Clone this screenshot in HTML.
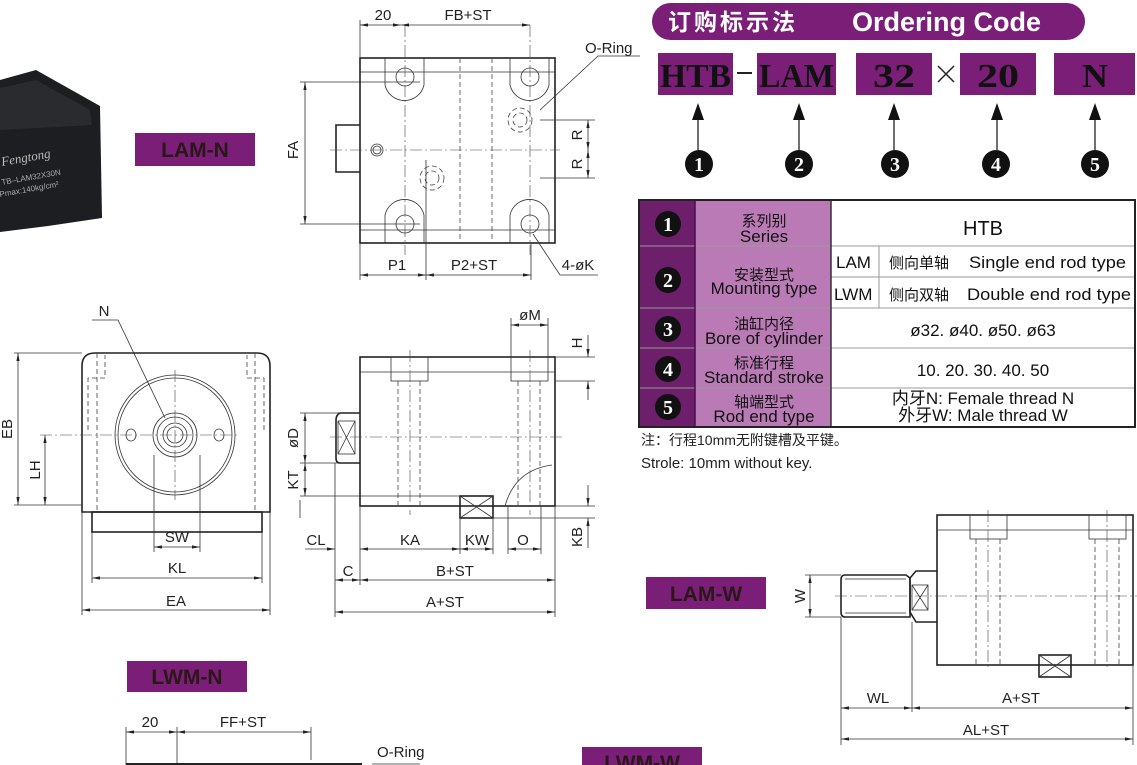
<!DOCTYPE html>
<html><head><meta charset="utf-8"><style>
html,body{margin:0;padding:0;background:#fff;}
svg{display:block;font-family:"Liberation Sans","Noto Sans CJK SC",sans-serif;}
.l{stroke:#222;stroke-width:1.6;fill:none}
.t{stroke:#333;stroke-width:0.8;fill:none}
.d{stroke:#444;stroke-width:0.8;fill:none;stroke-dasharray:5,3}
.c{stroke:#444;stroke-width:0.6;fill:none;stroke-dasharray:12,3,2,3}
.dim{font-size:15px;fill:#222}
.lab{font-size:21px;font-weight:bold;fill:#2a1818}
.tb{font-size:17px;fill:#111}
</style></head><body>
<svg width="1137" height="765" viewBox="0 0 1137 765" xmlns="http://www.w3.org/2000/svg">
<defs>
<marker id="a" viewBox="0 0 10 6" refX="10" refY="3" markerWidth="10" markerHeight="6" orient="auto-start-reverse"><path d="M0,1 L10,3 L0,5z" fill="#222"/></marker>
</defs>

<!-- photo -->
<polygon points="0,80 36,70 100,106 102,218 48,226 0,232" fill="#1d1e21"/>
<polygon points="0,88 36,80 90,110 92,125 0,130" fill="#2a2b2f"/>
<text x="2" y="166" font-size="13" font-style="italic" fill="#bbb" font-family="Liberation Serif,serif" transform="rotate(-10 2 166)">Fengtong</text>
<text x="2" y="185" font-size="8" fill="#aaa" transform="rotate(-10 2 185)">TB–LAM32X30N</text>
<text x="0" y="197" font-size="8" fill="#aaa" transform="rotate(-10 0 197)">Pmax:140kg/cm²</text>

<rect x="135" y="133" width="120" height="33" fill="#7a1e77"/>
<text x="195" y="157" text-anchor="middle" class="lab">LAM-N</text>

<!-- top view -->
<rect x="360" y="58" width="195" height="185" class="l"/>
<line x1="360" y1="72" x2="555" y2="72" class="t"/><line x1="360" y1="230" x2="555" y2="230" class="t"/>
<path d="M385,58 V85 A20,20 0 0 0 424,85 V58" class="t"/>
<path d="M510,58 V85 A20,20 0 0 0 549,85 V58" class="t"/>
<path d="M385,243 V215 A20,20 0 0 1 424,215 V243" class="t"/>
<path d="M510,243 V215 A20,20 0 0 1 549,215 V243" class="t"/>
<circle cx="405" cy="77" r="9" class="t"/><circle cx="530" cy="77" r="9" class="t"/>
<circle cx="405" cy="224" r="9" class="t"/><circle cx="530" cy="224" r="9" class="t"/>
<line x1="460" y1="58" x2="460" y2="243" class="d"/><line x1="492" y1="58" x2="492" y2="243" class="d"/>
<path d="M360,125 H336 V172 H360" class="l"/>
<circle cx="377" cy="150" r="6" class="t"/><circle cx="377" cy="150" r="4" class="t"/>
<circle cx="520" cy="120" r="12" class="d"/><circle cx="520" cy="120" r="7" class="d"/><circle cx="432" cy="178" r="12" class="d"/><circle cx="432" cy="178" r="7" class="d"/>
<line x1="330" y1="150" x2="560" y2="150" class="c"/>
<line x1="405" y1="25" x2="405" y2="255" class="c"/><line x1="530" y1="25" x2="530" y2="255" class="c"/>
<line x1="300" y1="82" x2="420" y2="82" class="t"/><line x1="300" y1="224" x2="420" y2="224" class="t"/>
<line x1="305" y1="82" x2="305" y2="224" class="t" marker-start="url(#a)" marker-end="url(#a)"/>
<text x="298" y="150" class="dim" text-anchor="middle" transform="rotate(-90 298 150)">FA</text>
<line x1="360" y1="20" x2="360" y2="58" class="t"/>
<line x1="360" y1="25" x2="401" y2="25" class="t" marker-start="url(#a)" marker-end="url(#a)"/>
<line x1="401" y1="25" x2="530" y2="25" class="t" marker-start="url(#a)" marker-end="url(#a)"/>
<text x="383" y="20" class="dim" text-anchor="middle">20</text>
<text x="468" y="20" class="dim" text-anchor="middle">FB+ST</text>
<line x1="540" y1="120" x2="595" y2="120" class="t"/><line x1="540" y1="178" x2="595" y2="178" class="t"/>
<line x1="588" y1="120" x2="588" y2="150" class="t" marker-start="url(#a)" marker-end="url(#a)"/>
<line x1="588" y1="150" x2="588" y2="178" class="t" marker-start="url(#a)" marker-end="url(#a)"/>
<text x="582" y="135" class="dim" text-anchor="middle" transform="rotate(-90 582 135)">R</text>
<text x="582" y="164" class="dim" text-anchor="middle" transform="rotate(-90 582 164)">R</text>
<text x="585" y="53" class="dim">O-Ring</text>
<polyline points="640,56 598,56 540,110" class="t"/>
<line x1="360" y1="243" x2="360" y2="280" class="t"/><line x1="426" y1="160" x2="426" y2="280" class="t"/><line x1="531" y1="243" x2="531" y2="280" class="t"/>
<line x1="360" y1="275" x2="426" y2="275" class="t" marker-start="url(#a)" marker-end="url(#a)"/>
<line x1="426" y1="275" x2="531" y2="275" class="t" marker-start="url(#a)" marker-end="url(#a)"/>
<text x="397" y="270" class="dim" text-anchor="middle">P1</text>
<text x="474" y="270" class="dim" text-anchor="middle">P2+ST</text>
<polyline points="533,234 560,275 598,275" class="t"/>
<text x="578" y="270" class="dim" text-anchor="middle">4-øK</text>

<!-- front view -->
<path d="M82,512 V366 Q82,353 95,353 H257 Q270,353 270,366 V512 Z" class="l"/>
<rect x="92" y="512" width="170" height="20" class="l"/>
<line x1="97" y1="353" x2="97" y2="512" class="d"/><line x1="255" y1="353" x2="255" y2="512" class="d"/>
<polyline points="88,430 88,378 105,378 105,355" class="d"/><polyline points="264,430 264,378 247,378 247,355" class="d"/>
<circle cx="175" cy="435" r="60" class="t"/><circle cx="175" cy="435" r="57" class="t"/>
<circle cx="175" cy="435" r="22" class="t"/><circle cx="175" cy="435" r="18" class="t"/><circle cx="175" cy="435" r="12" class="t"/><circle cx="175" cy="435" r="8" class="t"/>
<ellipse cx="131" cy="435" rx="5" ry="6" class="t"/><ellipse cx="219" cy="435" rx="5" ry="6" class="t"/>
<line x1="40" y1="435" x2="240" y2="435" class="c"/><line x1="175" y1="370" x2="175" y2="500" class="c"/>
<line x1="154" y1="455" x2="154" y2="552" class="t"/><line x1="200" y1="455" x2="200" y2="552" class="t"/>
<line x1="154" y1="547" x2="200" y2="547" class="t" marker-start="url(#a)" marker-end="url(#a)"/>
<text x="177" y="542" class="dim" text-anchor="middle">SW</text>
<line x1="92" y1="532" x2="92" y2="583" class="t"/><line x1="262" y1="532" x2="262" y2="583" class="t"/>
<line x1="92" y1="578" x2="262" y2="578" class="t" marker-start="url(#a)" marker-end="url(#a)"/>
<text x="177" y="573" class="dim" text-anchor="middle">KL</text>
<line x1="82" y1="512" x2="82" y2="615" class="t"/><line x1="270" y1="512" x2="270" y2="615" class="t"/>
<line x1="82" y1="610" x2="270" y2="610" class="t" marker-start="url(#a)" marker-end="url(#a)"/>
<text x="176" y="606" class="dim" text-anchor="middle">EA</text>
<line x1="14" y1="353" x2="82" y2="353" class="t"/><line x1="14" y1="505" x2="82" y2="505" class="t"/>
<line x1="18" y1="353" x2="18" y2="505" class="t" marker-start="url(#a)" marker-end="url(#a)"/>
<text x="12" y="429" class="dim" text-anchor="middle" transform="rotate(-90 12 429)">EB</text>
<line x1="45" y1="435" x2="45" y2="505" class="t" marker-start="url(#a)" marker-end="url(#a)"/>
<text x="40" y="470" class="dim" text-anchor="middle" transform="rotate(-90 40 470)">LH</text>
<text x="104" y="316" class="dim" text-anchor="middle">N</text>
<polyline points="92,320 118,320 165,418" class="t"/>

<!-- side view -->
<rect x="360" y="357" width="195" height="149" class="l"/>
<line x1="360" y1="372" x2="555" y2="372" class="t"/>
<rect x="391" y="357" width="37" height="24" class="t" fill="#fff"/><rect x="511" y="357" width="37" height="24" class="t" fill="#fff"/>
<line x1="398" y1="381" x2="398" y2="506" class="d"/><line x1="420" y1="381" x2="420" y2="506" class="d"/>
<line x1="518" y1="381" x2="518" y2="506" class="d"/><line x1="540" y1="381" x2="540" y2="506" class="d"/>
<line x1="410" y1="350" x2="410" y2="515" class="c"/><line x1="530" y1="350" x2="530" y2="515" class="c"/>
<path d="M360,413 H340 Q336,415 336,420 V458 Q336,463 340,463 H360" class="l"/>
<rect x="338" y="421" width="17" height="33" class="t"/><path d="M338,421 L355,454 M355,421 L338,454" class="t"/>
<line x1="330" y1="437" x2="565" y2="437" class="c"/>
<rect x="460" y="496" width="33" height="22" class="l" fill="#fff"/><path d="M460,496 L493,518 M493,496 L460,518" class="t"/>
<path d="M505,506 Q515,470 552,465" class="t"/>
<line x1="511" y1="318" x2="511" y2="357" class="t"/><line x1="548" y1="318" x2="548" y2="357" class="t"/>
<line x1="511" y1="325" x2="548" y2="325" class="t" marker-start="url(#a)" marker-end="url(#a)"/>
<text x="530" y="320" class="dim" text-anchor="middle">øM</text>
<line x1="555" y1="357" x2="595" y2="357" class="t"/><line x1="555" y1="381" x2="595" y2="381" class="t"/>
<line x1="588" y1="335" x2="588" y2="357" class="t" marker-end="url(#a)"/><line x1="588" y1="400" x2="588" y2="381" class="t" marker-end="url(#a)"/>
<text x="582" y="343" class="dim" text-anchor="middle" transform="rotate(-90 582 343)">H</text>
<line x1="555" y1="506" x2="595" y2="506" class="t"/><line x1="493" y1="518" x2="595" y2="518" class="t"/>
<line x1="588" y1="485" x2="588" y2="506" class="t" marker-end="url(#a)"/><line x1="588" y1="548" x2="588" y2="518" class="t" marker-end="url(#a)"/>
<text x="582" y="537" class="dim" text-anchor="middle" transform="rotate(-90 582 537)">KB</text>
<line x1="300" y1="413" x2="340" y2="413" class="t"/><line x1="300" y1="463" x2="340" y2="463" class="t"/><line x1="300" y1="496" x2="460" y2="496" class="t"/>
<line x1="305" y1="413" x2="305" y2="463" class="t" marker-start="url(#a)" marker-end="url(#a)"/>
<line x1="305" y1="463" x2="305" y2="496" class="t" marker-start="url(#a)" marker-end="url(#a)"/>
<text x="298" y="438" class="dim" text-anchor="middle" transform="rotate(-90 298 438)">øD</text>
<text x="298" y="480" class="dim" text-anchor="middle" transform="rotate(-90 298 480)">KT</text>
<line x1="300" y1="518" x2="300" y2="500" class="t"/>
<line x1="335" y1="463" x2="335" y2="617" class="t"/><line x1="360" y1="506" x2="360" y2="585" class="t"/><line x1="555" y1="506" x2="555" y2="617" class="t"/>
<line x1="460" y1="518" x2="460" y2="554" class="t"/><line x1="493" y1="518" x2="493" y2="554" class="t"/><line x1="508" y1="506" x2="508" y2="554" class="t"/><line x1="541" y1="506" x2="541" y2="554" class="t"/>
<line x1="305" y1="549" x2="335" y2="549" class="t" marker-end="url(#a)"/>
<line x1="360" y1="549" x2="460" y2="549" class="t" marker-start="url(#a)" marker-end="url(#a)"/>
<line x1="460" y1="549" x2="493" y2="549" class="t" marker-start="url(#a)" marker-end="url(#a)"/>
<line x1="508" y1="549" x2="541" y2="549" class="t" marker-start="url(#a)" marker-end="url(#a)"/>
<text x="316" y="545" class="dim" text-anchor="middle">CL</text>
<text x="410" y="545" class="dim" text-anchor="middle">KA</text>
<text x="477" y="545" class="dim" text-anchor="middle">KW</text>
<text x="523" y="545" class="dim" text-anchor="middle">O</text>
<line x1="335" y1="580" x2="360" y2="580" class="t" marker-start="url(#a)" marker-end="url(#a)"/>
<line x1="360" y1="580" x2="555" y2="580" class="t" marker-start="url(#a)" marker-end="url(#a)"/>
<text x="348" y="576" class="dim" text-anchor="middle">C</text>
<text x="455" y="576" class="dim" text-anchor="middle">B+ST</text>
<line x1="335" y1="612" x2="555" y2="612" class="t" marker-start="url(#a)" marker-end="url(#a)"/>
<text x="445" y="607" class="dim" text-anchor="middle">A+ST</text>

<!-- ordering code -->
<rect x="652" y="3" width="433" height="37" rx="18.5" fill="#7a1e77"/>
<text x="668" y="30" font-size="23" font-weight="bold" fill="#fff" letter-spacing="3">订购标示法</text>
<text x="852" y="31" font-size="27" font-weight="bold" fill="#fff">Ordering Code</text>
<g font-family="Liberation Serif,serif" font-weight="bold" font-size="34" fill="#111" lengthAdjust="spacingAndGlyphs">
<rect x="658" y="53" width="75" height="42" fill="#7a1e77"/><text x="660" y="87" textLength="71" lengthAdjust="spacingAndGlyphs">HTB</text>
<rect x="757" y="53" width="79" height="42" fill="#7a1e77"/><text x="759" y="87" textLength="75" lengthAdjust="spacingAndGlyphs">LAM</text>
<rect x="856" y="53" width="76" height="42" fill="#7a1e77"/><text x="873" y="87" textLength="42" lengthAdjust="spacingAndGlyphs">32</text>
<rect x="960" y="53" width="76" height="42" fill="#7a1e77"/><text x="977" y="87" textLength="42" lengthAdjust="spacingAndGlyphs">20</text>
<rect x="1054" y="53" width="81" height="42" fill="#7a1e77"/><text x="1082" y="87" textLength="26" lengthAdjust="spacingAndGlyphs">N</text>
</g>
<line x1="737" y1="73" x2="752" y2="73" stroke="#222" stroke-width="2"/>
<path d="M938,66 L954,82 M954,66 L938,82" stroke="#222" stroke-width="1.5"/>
<g stroke="#111" stroke-width="1.2">
<line x1="698" y1="108" x2="698" y2="150"/><line x1="799" y1="108" x2="799" y2="150"/><line x1="894" y1="108" x2="894" y2="150"/><line x1="997" y1="108" x2="997" y2="150"/><line x1="1095" y1="108" x2="1095" y2="150"/>
</g>
<g fill="#111">
<path d="M698,103 L704,120 L692,120z"/><path d="M799,103 L805,120 L793,120z"/><path d="M894,103 L900,120 L888,120z"/><path d="M997,103 L1003,120 L991,120z"/><path d="M1095,103 L1101,120 L1089,120z"/>
<circle cx="699" cy="164" r="14"/><circle cx="799" cy="164" r="14"/><circle cx="895" cy="164" r="14"/><circle cx="996" cy="164" r="14"/><circle cx="1095" cy="164" r="14"/>
</g>
<g font-family="Liberation Serif,serif" font-weight="bold" font-size="20" fill="#fff" text-anchor="middle">
<text x="699" y="171">1</text><text x="799" y="171">2</text><text x="895" y="171">3</text><text x="996" y="171">4</text><text x="1095" y="171">5</text>
</g>

<!-- table -->
<rect x="639" y="200" width="56" height="227" fill="#6e1f6b"/>
<rect x="695" y="200" width="136" height="227" fill="#b97ab5"/>
<g stroke="#999" stroke-width="1"><line x1="639" y1="246" x2="1135" y2="246"/><line x1="639" y1="308" x2="1135" y2="308"/><line x1="639" y1="348" x2="1135" y2="348"/><line x1="639" y1="388" x2="1135" y2="388"/><line x1="831" y1="277" x2="1135" y2="277"/><line x1="879" y1="246" x2="879" y2="308"/></g>
<line x1="695" y1="200" x2="695" y2="427" stroke="#4a1048" stroke-width="1.5"/>
<line x1="831" y1="200" x2="831" y2="427" stroke="#333" stroke-width="1.5"/>
<rect x="639" y="200" width="496" height="227" fill="none" stroke="#222" stroke-width="2"/>
<g fill="#111"><circle cx="668" cy="224" r="13"/><circle cx="668" cy="280" r="13"/><circle cx="668" cy="329" r="13"/><circle cx="668" cy="369" r="13"/><circle cx="668" cy="407" r="13"/></g>
<g font-family="Liberation Serif,serif" font-weight="bold" font-size="20" fill="#fff" text-anchor="middle">
<text x="668" y="231">1</text><text x="668" y="287">2</text><text x="668" y="336">3</text><text x="668" y="376">4</text><text x="668" y="414">5</text></g>
<g class="tb" text-anchor="middle" fill="#222">
<text x="764" y="226" font-size="15">系列别</text><text x="764" y="242">Series</text>
<text x="764" y="280" font-size="15">安装型式</text><text x="764" y="294">Mounting type</text>
<text x="764" y="329" font-size="15">油缸内径</text><text x="764" y="344">Bore of cylinder</text>
<text x="764" y="368" font-size="15">标准行程</text><text x="764" y="383">Standard stroke</text>
<text x="764" y="407" font-size="15">轴端型式</text><text x="764" y="422">Rod end type</text>
<text x="983" y="235" font-size="20">HTB</text>
<text x="983" y="336">ø32. ø40. ø50. ø63</text>
<text x="983" y="376">10. 20. 30. 40. 50</text>
<text x="983" y="404">内牙N:  Female thread N</text>
<text x="983" y="421">外牙W:  Male thread W</text>
</g>
<g class="tb" fill="#111">
<text x="836" y="268">LAM</text><text x="834" y="300">LWM</text>
<text x="889" y="268" font-size="15">侧向单轴</text><text x="889" y="300" font-size="15">侧向双轴</text>
<text x="969" y="268" textLength="157" lengthAdjust="spacingAndGlyphs">Single end rod type</text><text x="967" y="300" textLength="164" lengthAdjust="spacingAndGlyphs">Double end rod type</text>
</g>
<text x="641" y="445" font-size="14" fill="#222">注：行程10mm无附键槽及平键。</text>
<text x="641" y="468" font-size="15" fill="#222">Strole: 10mm without key.</text>

<!-- LAM-W -->
<rect x="646" y="577" width="120" height="32" fill="#7a1e77"/>
<text x="706" y="601" text-anchor="middle" class="lab">LAM-W</text>
<rect x="937" y="515" width="196" height="150" class="l"/>
<line x1="937" y1="530" x2="1133" y2="530" class="t"/>
<rect x="970" y="515" width="37" height="24" class="t" fill="#fff"/><rect x="1089" y="515" width="37" height="24" class="t" fill="#fff"/>
<line x1="976" y1="539" x2="976" y2="665" class="d"/><line x1="1000" y1="539" x2="1000" y2="665" class="d"/>
<line x1="1095" y1="539" x2="1095" y2="665" class="d"/><line x1="1119" y1="539" x2="1119" y2="665" class="d"/>
<line x1="988" y1="510" x2="988" y2="670" class="c"/><line x1="1107" y1="510" x2="1107" y2="670" class="c"/>
<path d="M937,571 H916 L910,578 V612 L916,622 H937" class="l"/>
<rect x="912" y="585" width="16" height="25" class="t"/><path d="M912,585 L928,610 M928,585 L912,610" class="t"/>
<path d="M910,578 V617 H845 Q841,617 841,612 V580 Q841,575 845,575 H906 Z" class="l"/>
<line x1="845" y1="579" x2="906" y2="579" class="t"/><line x1="845" y1="613" x2="906" y2="613" class="t"/>
<line x1="835" y1="596" x2="1137" y2="596" class="c"/>
<rect x="1039" y="655" width="32" height="22" class="l" fill="#fff"/><path d="M1039,655 L1071,677 M1071,655 L1039,677" class="t"/>
<line x1="805" y1="575" x2="841" y2="575" class="t"/><line x1="805" y1="617" x2="841" y2="617" class="t"/>
<line x1="810" y1="575" x2="810" y2="617" class="t" marker-start="url(#a)" marker-end="url(#a)"/>
<text x="805" y="596" class="dim" text-anchor="middle" transform="rotate(-90 805 596)">W</text>
<line x1="841" y1="617" x2="841" y2="745" class="t"/><line x1="912" y1="622" x2="912" y2="712" class="t"/><line x1="1133" y1="665" x2="1133" y2="745" class="t"/>
<line x1="841" y1="708" x2="912" y2="708" class="t" marker-start="url(#a)" marker-end="url(#a)"/>
<line x1="912" y1="708" x2="1133" y2="708" class="t" marker-start="url(#a)" marker-end="url(#a)"/>
<text x="878" y="703" class="dim" text-anchor="middle">WL</text>
<text x="1021" y="703" class="dim" text-anchor="middle">A+ST</text>
<line x1="841" y1="739" x2="1133" y2="739" class="t" marker-start="url(#a)" marker-end="url(#a)"/>
<text x="986" y="735" class="dim" text-anchor="middle">AL+ST</text>

<!-- LWM-N -->
<rect x="127" y="661" width="120" height="31" fill="#7a1e77"/>
<text x="187" y="684" text-anchor="middle" class="lab">LWM-N</text>
<line x1="126" y1="727" x2="126" y2="765" class="t"/><line x1="177" y1="727" x2="177" y2="765" class="t"/><line x1="311" y1="727" x2="311" y2="760" class="t"/>
<line x1="126" y1="732" x2="177" y2="732" class="t" marker-start="url(#a)" marker-end="url(#a)"/>
<line x1="177" y1="732" x2="311" y2="732" class="t" marker-start="url(#a)" marker-end="url(#a)"/>
<text x="150" y="727" class="dim" text-anchor="middle">20</text>
<text x="243" y="727" class="dim" text-anchor="middle">FF+ST</text>
<line x1="126" y1="764" x2="362" y2="764" stroke="#222" stroke-width="2"/>
<text x="377" y="757" class="dim">O-Ring</text>
<line x1="372" y1="764" x2="420" y2="764" class="t"/>
<rect x="582" y="747" width="120" height="20" fill="#7a1e77"/>
<text x="642" y="770" text-anchor="middle" class="lab">LWM-W</text>
</svg>
</body></html>
